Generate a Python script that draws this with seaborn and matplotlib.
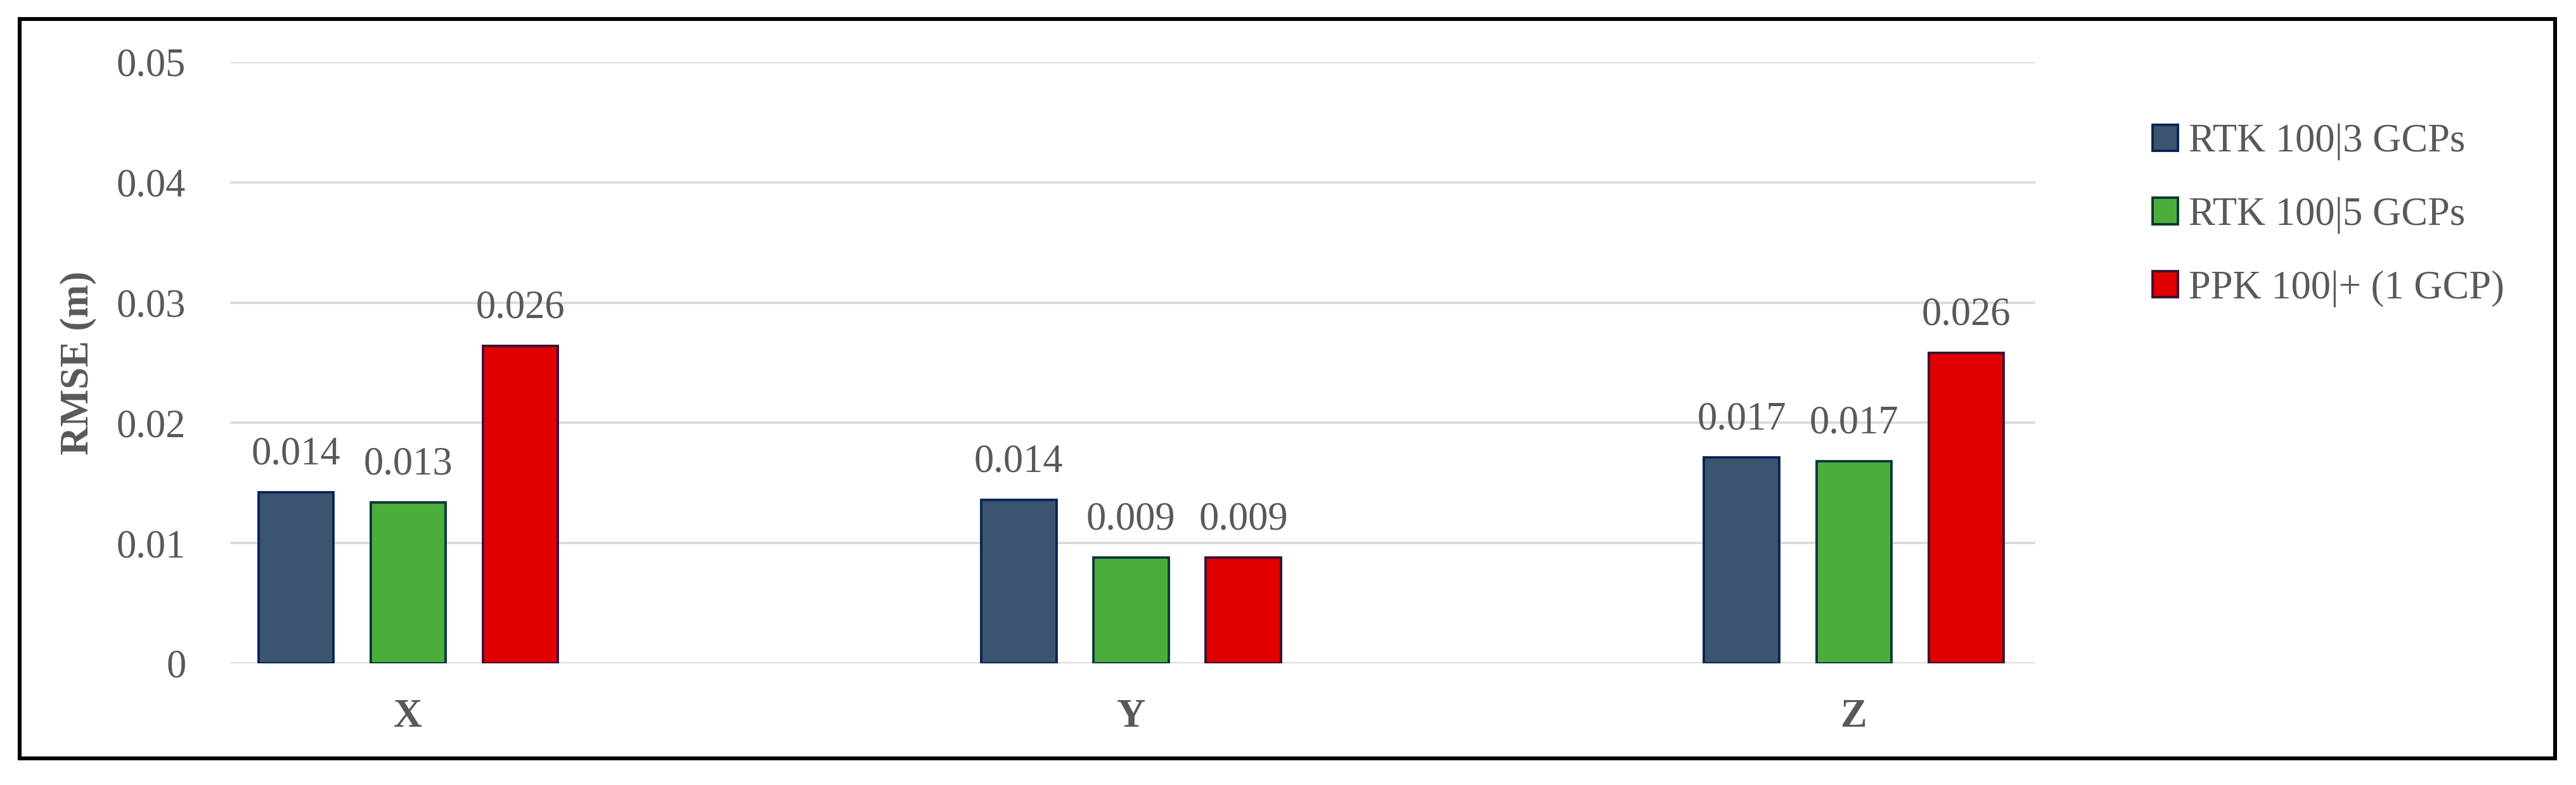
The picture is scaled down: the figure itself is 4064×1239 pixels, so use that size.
import matplotlib
matplotlib.use("Agg")
import matplotlib.pyplot as plt
import pandas as pd
import seaborn as sns
from matplotlib.patches import Rectangle
from matplotlib.ticker import FuncFormatter

# RMSE per axis for each processing setup
axis_names = ["X", "Y", "Z"]
methods = ["RTK 100|3 GCPs", "RTK 100|5 GCPs", "PPK 100|+ (1 GCP)"]
rtk_3gcp = [0.0142, 0.0136, 0.0171]
rtk_5gcp = [0.0134, 0.0088, 0.0168]
ppk_1gcp = [0.0264, 0.0088, 0.0258]

fill_colors = ["#3B5470", "#4BAE3B", "#E00000"]
edge_colors = ["#0B2456", "#0B3838", "#3A1238"]
text_gray = "#595959"

rows = []
for method, vals in zip(methods, [rtk_3gcp, rtk_5gcp, ppk_1gcp]):
    for ax_name, v in zip(axis_names, vals):
        rows.append({"Axis": ax_name, "Method": method, "RMSE": v})
df = pd.DataFrame(rows)

sns.set_style("white")
plt.rcParams["font.family"] = ["Liberation Serif", "DejaVu Serif"]
fs = 22.5

fig = plt.figure(figsize=(20.32, 6.195), dpi=200)
ax = fig.add_axes([0.0893, 0.155, 0.7009, 0.766])

sns.barplot(
    data=df, x="Axis", y="RMSE", hue="Method", hue_order=methods,
    order=axis_names, palette=fill_colors, saturation=1, width=0.466,
    gap=0.331, linewidth=1.4, ax=ax,
)

for cont, ec in zip(ax.containers, edge_colors):
    for bar in cont:
        bar.set_edgecolor(ec)
        bar.set_linewidth(1.4)
    ax.bar_label(cont, fmt="%.3f", padding=11, fontsize=fs, color=text_gray)

ax.set_ylim(0, 0.05)
ax.set_xlim(-0.2464, 2.2512)
ax.set_yticks([0, 0.01, 0.02, 0.03, 0.04, 0.05])
ax.yaxis.set_major_formatter(FuncFormatter(lambda v, _: f"{v:g}"))
ax.yaxis.grid(True, color="#D9D9D9", linewidth=1.3)
ax.set_axisbelow(True)
for s in ax.spines.values():
    s.set_visible(False)

ax.tick_params(axis="y", length=0, pad=25, labelsize=fs, labelcolor=text_gray)
ax.tick_params(axis="x", length=0, pad=20, labelsize=fs, labelcolor=text_gray)
for lab in ax.get_xticklabels():
    lab.set_fontweight("bold")

ax.set_xlabel("")
ax.set_ylabel("RMSE (m)", fontsize=fs, fontweight="bold", color=text_gray)
ax.yaxis.set_label_coords(-0.074, 0.5)

handles, labels = ax.get_legend_handles_labels()
if ax.get_legend() is not None:
    ax.get_legend().remove()
leg = fig.legend(
    handles, labels, loc="center left", bbox_to_anchor=(0.8356, 0.7256),
    bbox_transform=fig.transFigure, frameon=False, fontsize=fs,
    handlelength=0.64, handleheight=0.64, handletextpad=0.28,
    labelspacing=0.92, borderpad=0, borderaxespad=0,
)
for h, fc, ec in zip(leg.legend_handles, fill_colors, edge_colors):
    h.set_facecolor(fc)
    h.set_edgecolor(ec)
    h.set_linewidth(1.4)
for t in leg.get_texts():
    t.set_color(text_gray)

# outer frame around the whole chart
fig.patches.append(Rectangle(
    (31 / 4064, 1 - 1197 / 1239), (4031 - 31) / 4064, (1197 - 30) / 1239,
    transform=fig.transFigure, fill=False, edgecolor="black", linewidth=2.2,
))

fig.savefig("out.png", dpi=200)
